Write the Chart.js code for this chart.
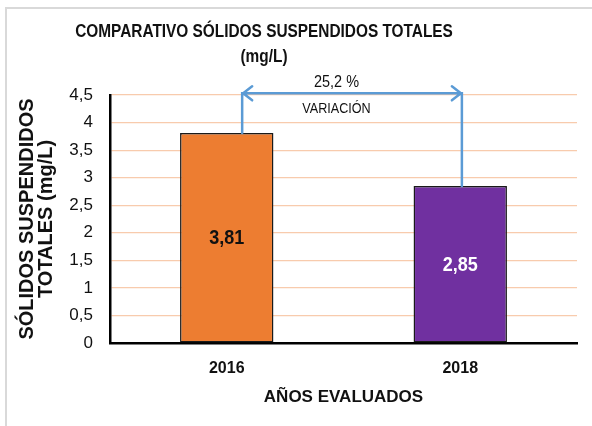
<!DOCTYPE html>
<html>
<head>
<meta charset="utf-8">
<script src="https://cdn.jsdelivr.net/npm/chart.js@4.4.0/dist/chart.umd.min.js"></script>
<style>
  html, body { margin: 0; padding: 0; background: #fff; }
  #wrap { position: relative; width: 592px; height: 426px; }
  #marco { position: absolute; left: 5px; top: 7px; right: 0; bottom: 0;
           border-top: 2px solid #d9d9d9; border-left: 2px solid #d9d9d9; }
  canvas { position: absolute; left: 0; top: 0; }
</style>
</head>
<body>
<div id="wrap">
  <div id="marco"></div>
  <canvas id="grafico" width="592" height="426"></canvas>
</div>
<script>
const FUENTE = "'Liberation Sans', Arial, sans-serif";

// datos
const anios = ["2016", "2018"];
const valores = [3.81, 2.85];
const coloresBarra = ["#ED7D31", "#7030A0"];
const coloresEtiqueta = ["#111111", "#ffffff"];
const titulo = ["COMPARATIVO SÓLIDOS SUSPENDIDOS TOTALES", "(mg/L)"];
const variacion = "25,2 %";
const textoVariacion = "VARIACIÓN";
// extremos de la flecha (indice de categoria) y su altura en mg/L
const flechaX = [0.066, 1.007];
const flechaY = 4.53;
const textoX = 0.47;

const coma = (v) => String(v).replace(".", ",");

// texto algo estrecho, como Arial Narrow
function textoEstrecho(ctx, txt, x, y, escala) {
  ctx.save();
  ctx.translate(x, y);
  ctx.scale(escala, 1);
  ctx.fillText(txt, 0, 0);
  ctx.restore();
}

// titulo dibujado a mano (va un poco corrido a la izquierda)
const tituloGrafico = {
  id: "tituloGrafico",
  afterDraw(chart) {
    const ctx = chart.ctx;
    ctx.save();
    ctx.fillStyle = "#111";
    ctx.textAlign = "center";
    ctx.textBaseline = "middle";
    ctx.font = "bold 18px " + FUENTE;
    textoEstrecho(ctx, titulo[0], 264, 32, 0.855);
    textoEstrecho(ctx, titulo[1], 264, 57, 0.855);
    ctx.restore();
  },
};

// etiquetas dentro de las barras
const etiquetasBarras = {
  id: "etiquetasBarras",
  afterDatasetsDraw(chart) {
    const ctx = chart.ctx;
    const meta = chart.getDatasetMeta(0);
    ctx.save();
    ctx.font = "bold 20px " + FUENTE;
    ctx.textAlign = "center";
    ctx.textBaseline = "middle";
    meta.data.forEach((bar, i) => {
      ctx.fillStyle = coloresEtiqueta[i];
      textoEstrecho(ctx, coma(valores[i].toFixed(2)), bar.x, (bar.y + bar.base) / 2 + 1, 0.9);
    });
    ctx.restore();
  },
};

// flecha de variacion
const flechaVariacion = {
  id: "flechaVariacion",
  afterDatasetsDraw(chart) {
    const ctx = chart.ctx;
    const sx = chart.scales.x;
    const sy = chart.scales.y;
    const x1 = sx.getPixelForValue(flechaX[0]);
    const x2 = sx.getPixelForValue(flechaX[1]);
    const xt = sx.getPixelForValue(textoX);
    const y = sy.getPixelForValue(flechaY);
    const yb1 = sy.getPixelForValue(valores[0]);
    const yb2 = sy.getPixelForValue(valores[1]);

    ctx.save();
    ctx.strokeStyle = "#5B9BD5";
    ctx.lineWidth = 2.5;
    ctx.lineCap = "round";
    ctx.beginPath();
    ctx.moveTo(x1, yb1);
    ctx.lineTo(x1, y);
    ctx.lineTo(x2, y);
    ctx.lineTo(x2, yb2);
    // puntas
    ctx.moveTo(x1 + 10, y - 7);
    ctx.lineTo(x1 + 1, y);
    ctx.lineTo(x1 + 10, y + 7);
    ctx.moveTo(x2 - 10, y - 7);
    ctx.lineTo(x2 - 1, y);
    ctx.lineTo(x2 - 10, y + 7);
    ctx.stroke();

    ctx.fillStyle = "#111";
    ctx.textAlign = "center";
    ctx.textBaseline = "middle";
    ctx.font = "17px " + FUENTE;
    textoEstrecho(ctx, variacion, xt, y - 11, 0.85);
    ctx.font = "14px " + FUENTE;
    textoEstrecho(ctx, textoVariacion, xt, y + 16, 0.9);
    ctx.restore();
  },
};

new Chart(document.getElementById("grafico"), {
  type: "bar",
  data: {
    labels: anios,
    datasets: [
      {
        data: valores,
        backgroundColor: coloresBarra,
        borderColor: "#1a1a1a",
        borderWidth: 1.5,
        borderSkipped: false,
        barPercentage: 0.8,
        categoryPercentage: 0.5,
      },
    ],
  },
  options: {
    responsive: false,
    animation: false,
    devicePixelRatio: 1,
    layout: { padding: { top: 95, right: 15, left: 0, bottom: 0 } },
    plugins: {
      legend: { display: false },
      tooltip: { enabled: false },
      title: { display: false },
    },
    scales: {
      x: {
        grid: { display: false, drawTicks: false },
        border: { color: "#000", width: 2.5 },
        ticks: {
          color: "#111",
          padding: 16,
          font: { family: FUENTE, size: 16, weight: "bold" },
        },
        title: {
          display: true,
          text: "AÑOS EVALUADOS",
          color: "#111",
          font: { family: FUENTE, size: 17, weight: "bold" },
          padding: { top: 8, bottom: 18 },
        },
        afterFit(scale) {
          scale.height = 83;
        },
      },
      y: {
        min: 0,
        max: 4.5,
        grid: { color: "#F8CBAD", lineWidth: 1.2, drawTicks: false },
        border: { color: "#000", width: 2.5 },
        ticks: {
          stepSize: 0.5,
          color: "#111",
          padding: 17,
          font: { family: FUENTE, size: 17 },
          callback: (v) => coma(v),
        },
        title: {
          display: true,
          text: ["SÓLIDOS SUSPENDIDOS", "TOTALES (mg/L)"],
          color: "#111",
          font: { family: FUENTE, size: 20, weight: "bold", lineHeight: 0.95 },
          padding: { top: 18, bottom: 0 },
        },
        afterFit(scale) {
          scale.width = 110;
        },
      },
    },
  },
  plugins: [tituloGrafico, etiquetasBarras, flechaVariacion],
});
</script>
</body>
</html>
